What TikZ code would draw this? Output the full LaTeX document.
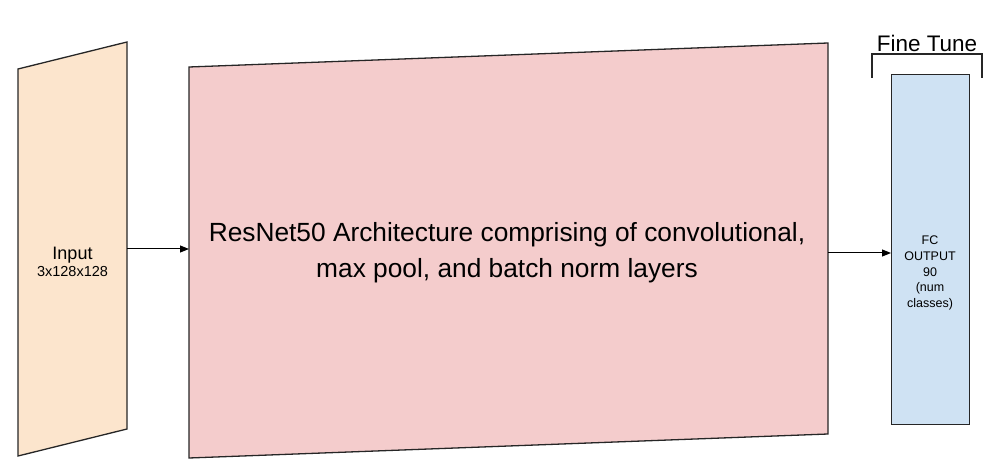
\documentclass[tikz,border=0pt]{standalone}
\usepackage{fontspec}
\setmainfont{Liberation Sans}
\usetikzlibrary{arrows.meta}
\definecolor{inputfill}{HTML}{FCE5CD}
\definecolor{resfill}{HTML}{F4CCCC}
\definecolor{fcfill}{HTML}{CFE2F3}
\tikzset{
  shapeline/.style={draw=black!85, line width=1.3pt, line join=miter},
  conn/.style={draw=black, line width=1pt, -{Triangle[length=9pt,width=7pt]}},
}
\begin{document}
\begin{tikzpicture}[x=1pt,y=-1pt]
\useasboundingbox (0,0) rectangle (987,470);
% input trapezoid
\filldraw[shapeline, fill=inputfill] (18,69) -- (127,42) -- (127,429) -- (18,456) -- cycle;
\node[font=\fontsize{18}{17}\selectfont, align=center, inner sep=0] (in) at (72.5,262)
  {Input\\{\fontsize{14.5}{17}\selectfont 3x128x128}};
\coordinate (inR) at (127,249);
% resnet
\filldraw[shapeline, fill=resfill] (189,67) -- (828,43) -- (828,434) -- (189,458) -- cycle;
\node[font=\fontsize{26.3}{36}\selectfont, align=center, inner sep=0] (res) at (507,253)
  {ResNet50 Architecture comprising of convolutional,\\max pool, and batch norm layers};
\coordinate (resL) at (189,249);
\coordinate (resR) at (828,253);
% FC
\node[shapeline, fill=fcfill, minimum width=78pt, minimum height=350pt, inner sep=0, anchor=north west] (fc) at (891,74) {};
\node[font=\fontsize{12.5}{15.8}\selectfont, align=center, inner sep=0] (fct) at (930,273)
  {FC\\OUTPUT\\90\\(num\\classes)};
\coordinate (fcL) at (891,253);
% bracket
\coordinate (b1) at (872,78);
\coordinate (b2) at (872,54);
\coordinate (b3) at (982,54);
\coordinate (b4) at (982,78);
\draw[draw=black!85, line width=1.3pt] (b1) -- (b2) -- (b3) -- (b4);
\node[font=\fontsize{22.5}{24}\selectfont, inner sep=0] (ft) at (927,43) {Fine Tune};
% arrows
\draw[conn] (inR) -- (resL);
\draw[conn] (resR) -- (fcL);
\end{tikzpicture}
\end{document}
